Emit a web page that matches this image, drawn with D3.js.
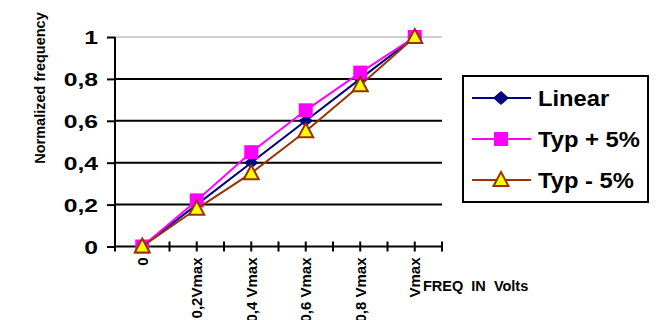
<!DOCTYPE html>
<html>
<head>
<meta charset="utf-8">
<script src="https://cdn.jsdelivr.net/npm/d3@7"></script>
<style>
  html, body { margin: 0; padding: 0; background: #fff; }
  svg { display: block; font-family: "Liberation Sans", Arial, sans-serif; }
</style>
</head>
<body>
<svg id="chart" width="664" height="320"></svg>
<script>
const categories = ["0", "0,2Vmax", "0,4 Vmax", "0,6 Vmax", "0,8 Vmax", "Vmax"];
const linear = [0, 0.2, 0.4, 0.6, 0.8, 1];
const typPlus = [0, 0.22, 0.45, 0.65, 0.83, 1];
const typMinus = [0, 0.18, 0.35, 0.55, 0.77, 1];
const yTicks = [0, 0.2, 0.4, 0.6, 0.8, 1];
const yTickLabels = ["0", "0,2", "0,4", "0,6", "0,8", "1"];
const seriesNames = ["Linear", "Typ + 5%", "Typ - 5%"];

(function () {
const svg = d3.select("#chart");
const pLeft = 115, pRight = 442, pTop = 37, pBottom = 246.5;

const x = d3.scalePoint().domain(categories).range([pLeft, pRight]).padding(0.5);
const y = d3.scaleLinear().domain([0, 1]).range([pBottom, pTop]);

// gridlines
svg.append("g").selectAll("line").data(yTicks.filter(d => d > 0)).join("line")
  .attr("x1", pLeft).attr("x2", pRight)
  .attr("y1", d => y(d)).attr("y2", d => y(d))
  .attr("stroke", d => d === 1 ? "#c0c0c0" : "#000")
  .attr("stroke-width", d => d === 1 ? 1.5 : 2);

// y axis
const yAxis = d3.axisLeft(y).tickValues(yTicks).tickSize(8).tickFormat((d, i) => yTickLabels[i]);
const gy = svg.append("g").attr("transform", `translate(${pLeft},0)`).call(yAxis);
gy.select(".domain").attr("stroke", "#000").attr("stroke-width", 2).attr("d", `M0,${pTop}V${pBottom}`);
gy.selectAll(".tick line").attr("stroke", "#000").attr("stroke-width", 2);
gy.selectAll(".tick text").attr("x", 0).attr("dy", "0.36em")
  .attr("transform", "translate(-17,0) scale(1.3,1)")
  .attr("font-size", 19).attr("font-weight", "bold")
  .attr("fill", "#000").attr("font-family", "Liberation Sans, Arial, sans-serif");

// x axis line and ticks (band boundaries and centers)
const step = x.step();
const xTickPos = d3.range(0, categories.length * 2 + 1).map(k => pLeft + k * step / 2);
const gx = svg.append("g");
gx.append("line").attr("x1", pLeft).attr("x2", pRight).attr("y1", pBottom).attr("y2", pBottom)
  .attr("stroke", "#000").attr("stroke-width", 2);
gx.selectAll("line.t").data(xTickPos).join("line").attr("class", "t")
  .attr("x1", d => d).attr("x2", d => d).attr("y1", pBottom - 5).attr("y2", pBottom + 5)
  .attr("stroke", "#000").attr("stroke-width", 2);
gx.selectAll("text").data(categories).join("text")
  .attr("transform", d => `translate(${x(d) + 5.5},${pBottom + 11}) rotate(-90)`)
  .attr("text-anchor", "end")
  .attr("font-size", 15).attr("font-weight", "bold").attr("fill", "#000")
  .text(d => d);

// axis titles
svg.append("text")
  .attr("transform", `translate(45,88) rotate(-90)`)
  .attr("text-anchor", "middle")
  .attr("font-size", 14.5).attr("font-weight", "bold").attr("fill", "#000")
  .text("Normalized frequency");
svg.append("text")
  .attr("x", 423).attr("y", 291)
  .attr("font-size", 14.5).attr("font-weight", "bold").attr("fill", "#000")
  .style("white-space", "pre")
  .text("FREQ  IN  Volts");

// series
const series = [
  { name: seriesNames[0], values: linear, color: "#000080", marker: "diamond" },
  { name: seriesNames[1], values: typPlus, color: "#ff00ff", marker: "square" },
  { name: seriesNames[2], values: typMinus, color: "#993300", marker: "triangle" }
];

const line = d3.line().x((d, i) => x(categories[i])).y(d => y(d));

function drawMarker(g, type, cx, cy, big) {
  const k = big ? 1.1 : 1;
  if (type === "diamond") {
    g.append("path").attr("d", d3.symbol(d3.symbolDiamond2, 100)())
      .attr("transform", `translate(${cx},${cy}) scale(${1.05 * k},${0.8 * k * (big ? 1.15 : 1)})`)
      .attr("fill", "#000080").attr("stroke", "#000080").attr("stroke-width", 1);
  } else if (type === "square") {
    g.append("rect").attr("x", cx - 7).attr("y", cy - 7).attr("width", 14).attr("height", 14)
      .attr("fill", "#ff00ff");
  } else {
    g.append("path").attr("d", `M${cx},${cy - 8}L${cx + 7.5},${cy + 6}L${cx - 7.5},${cy + 6}Z`)
      .attr("fill", "#ffff00").attr("stroke", "#993300").attr("stroke-width", 2).attr("stroke-linejoin", "miter");
  }
}

series.forEach(s => {
  const g = svg.append("g");
  g.append("path").datum(s.values).attr("d", line)
    .attr("fill", "none").attr("stroke", s.color).attr("stroke-width", 2);
  s.values.forEach((v, i) => drawMarker(g, s.marker, x(categories[i]), y(v), false));
});

// legend
const lg = svg.append("g");
lg.append("rect").attr("x", 463).attr("y", 76).attr("width", 185).attr("height", 126)
  .attr("fill", "#fff").attr("stroke", "#000").attr("stroke-width", 2);
const rowY = [98, 139, 180];
series.forEach((s, i) => {
  lg.append("line").attr("x1", 472).attr("x2", 531).attr("y1", rowY[i]).attr("y2", rowY[i])
    .attr("stroke", s.color).attr("stroke-width", 2);
  drawMarker(lg, s.marker, 501, rowY[i], true);
  lg.append("text").attr("transform", `translate(538,${rowY[i] + 7.5}) scale(1.08,1)`)
    .attr("font-size", 22).attr("font-weight", "bold").attr("fill", "#000")
    .text(s.name);
});
})();
</script>
</body>
</html>
